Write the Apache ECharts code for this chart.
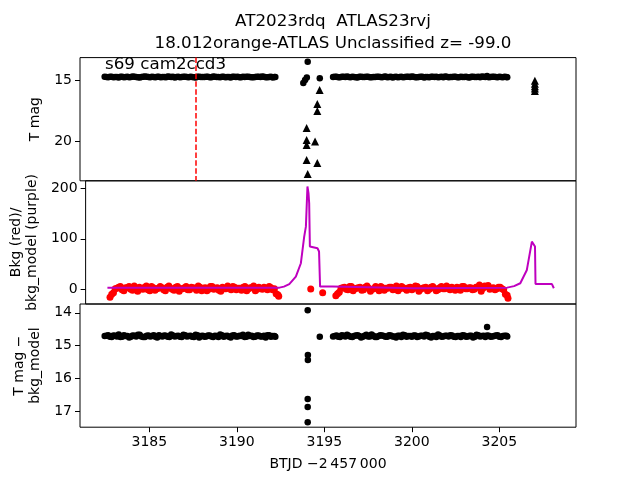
<!DOCTYPE html>
<html><head><meta charset="utf-8">
<script src="https://cdn.jsdelivr.net/npm/echarts@6/dist/echarts.min.js"></script>
<style>html,body{margin:0;padding:0;background:#fff}#c{width:640px;height:480px}</style>
</head><body><div id="c"></div>
<script>
// ---- data ----
const xTicks = [3185, 3190, 3195, 3200, 3205];
const magTicks1 = [15, 20];
const bkgTicks = [0, 100, 200];
const magTicks3 = [14, 15, 16, 17];

// observation times (two sectors, two interleaved sets each)
const t1 = [3182.45,3182.65,3182.85,3183.05,3183.25,3183.45,3183.65,3183.85,3184.05,3184.25,3184.45,3184.65,3184.85,3185.05,3185.25,3185.45,3185.65,3185.85,3186.05,3186.25,3186.45,3186.65,3186.85,3187.05,3187.25,3187.45,3187.65,3187.85,3188.05,3188.25,3188.45,3188.65,3188.85,3189.05,3189.25,3189.45,3189.65,3189.85,3190.05,3190.25,3190.45,3190.65,3190.85,3191.05,3191.25,3191.45,3191.65,3191.85,3192.05,3192.2];
const t1h = [3182.55,3182.75,3182.95,3183.15,3183.35,3183.55,3183.75,3183.95,3184.15,3184.35,3184.55,3184.75,3184.95,3185.15,3185.35,3185.55,3185.75,3185.95,3186.15,3186.35,3186.55,3186.75,3186.95,3187.15,3187.35,3187.55,3187.75,3187.95,3188.15,3188.35,3188.55,3188.75,3188.95,3189.15,3189.35,3189.55,3189.75,3189.95,3190.15,3190.35,3190.55,3190.75,3190.95,3191.15,3191.35,3191.55,3191.75,3191.95,3192.15];
const t2 = [3195.5,3195.7,3195.9,3196.1,3196.3,3196.5,3196.7,3196.9,3197.1,3197.3,3197.5,3197.7,3197.9,3198.1,3198.3,3198.5,3198.7,3198.9,3199.1,3199.3,3199.5,3199.7,3199.9,3200.1,3200.3,3200.5,3200.7,3200.9,3201.1,3201.3,3201.5,3201.7,3201.9,3202.1,3202.3,3202.5,3202.7,3202.9,3203.1,3203.3,3203.5,3203.7,3203.9,3204.1,3204.3,3204.5,3204.7,3204.9,3205.1,3205.3,3205.45];
const t2h = [3195.6,3195.8,3196.0,3196.2,3196.4,3196.6,3196.8,3197.0,3197.2,3197.4,3197.6,3197.8,3198.0,3198.2,3198.4,3198.6,3198.8,3199.0,3199.2,3199.4,3199.6,3199.8,3200.0,3200.2,3200.4,3200.6,3200.8,3201.0,3201.2,3201.4,3201.6,3201.8,3202.0,3202.2,3202.4,3202.6,3202.8,3203.0,3203.2,3203.4,3203.6,3203.8,3204.0,3204.2,3204.4,3204.6,3204.8,3205.0,3205.2,3205.4];

// panel 1: T mag
const mag1a = [14.74,14.78,14.72,14.76,14.80,14.73,14.75,14.77,14.71,14.76,14.79,14.74,14.72,14.77,14.75,14.73,14.78,14.76,14.71,14.75,14.79,14.74,14.76,14.72,14.77,14.75,14.80,14.73,14.76,14.74,14.78,14.71,14.75,14.77,14.73,14.76,14.79,14.74,14.72,14.77,14.75,14.73,14.78,14.76,14.74,14.71,14.77,14.75,14.79,14.76];
const mag1c = [14.76,14.73,14.77,14.75,14.72,14.78,14.74,14.76,14.73,14.77,14.75,14.71,14.76,14.74,14.78,14.73,14.75,14.77,14.74,14.72,14.76,14.78,14.73,14.75,14.74,14.77,14.72,14.76,14.75,14.73,14.78,14.74,14.76,14.72,14.77,14.75,14.73,14.76,14.78,14.74,14.72,14.75,14.77,14.73,14.76,14.74,14.78,14.72,14.75];
const mag1b = [14.76,14.73,14.78,14.74,14.71,14.77,14.75,14.79,14.73,14.76,14.72,14.78,14.75,14.74,14.77,14.71,14.76,14.79,14.73,14.75,14.78,14.72,14.76,14.74,14.77,14.73,14.79,14.75,14.72,14.76,14.78,14.74,14.71,14.77,14.75,14.73,14.78,14.76,14.74,14.79,14.72,14.75,14.77,14.73,14.66,14.76,14.74,14.78,14.75,14.73,14.77];
const mag1d = [14.74,14.77,14.72,14.76,14.75,14.73,14.78,14.74,14.76,14.72,14.77,14.75,14.73,14.76,14.74,14.78,14.72,14.75,14.77,14.73,14.76,14.74,14.71,14.77,14.75,14.73,14.76,14.78,14.74,14.72,14.75,14.77,14.73,14.76,14.74,14.78,14.72,14.75,14.77,14.73,14.76,14.74,14.71,14.75,14.77,14.73,14.76,14.74,14.78,14.75];
const spikeT1 = [3194.05, 3193.8, 3193.9, 3194.0, 3194.74];
const spikeM1 = [13.5, 15.25, 15.0, 14.8, 14.86];
const limT = [3194.73, 3194.6, 3194.6, 3193.99, 3193.99, 3194.47, 3193.99, 3193.99, 3194.6, 3194.05, 3207.03, 3207.03, 3207.03, 3207.03, 3207.03];
const limM = [15.82, 16.97, 17.54, 18.93, 19.92, 20.04, 20.33, 21.56, 21.8, 22.7, 15.05, 15.3, 15.5, 15.7, 15.9];
const markTime = 3187.65;

// panel 2: background (red) and background model (purple)
const bkg1 = [-15,-6,3,6,-2,4,1,7,-3,2,5,0,6,-1,3,4,-2,7,1,5,-3,2,6,0,4,-1,5,3,-2,6,1,4,-3,2,7,0,5,3,-1,6,2,4,-2,5,1,3,6,0,-8,-13];
const bkg1h = [-9,2,5,0,4,6,-1,3,5,1,7,-2,4,2,6,0,5,3,-1,6,2,4,0,5,3,7,-2,4,1,6,3,-1,5,2,4,6,0,3,5,-2,4,7,1,3,5,0,4,2,-10];
const bkg2 = [-12,-5,4,1,6,-2,3,5,0,7,-3,2,4,6,-1,3,5,1,-2,6,2,4,0,7,-3,3,5,1,6,-2,4,2,7,0,3,5,-1,6,2,4,1,5,-3,7,8,3,0,5,2,-9,-17];
const bkg2h = [-8,3,5,0,6,2,4,-1,5,3,1,6,-2,4,3,5,0,7,2,4,-1,5,3,6,1,4,-2,5,3,0,6,2,4,5,-1,3,6,2,4,0,5,9,3,6,1,4,2,5,0,-11];
const spikeTB = [3194.05, 3194.74];
const spikeB = [1.4, -5.9];
const modelT = [3182.3,3185.0,3190.0,3192.24,3192.5,3192.81,3193.19,3193.48,3193.67,3193.77,3193.86,3193.92,3193.96,3194.0,3194.44,3194.53,3194.59,3194.68,3195.3,3200.0,3205.4,3205.8,3206.16,3206.54,3206.83,3206.9,3207.01,3207.04,3207.99,3208.1];
const modelB = [4,4,4,4,6,11,25.6,52,104,124,203,190,170,85,81.5,75,6,2.8,6,3,4,7,12.6,38.8,94.5,98,85,11,11,2.8];

// panel 3: T mag - bkg_model
const mag3a = [14.71,14.68,14.74,14.70,14.66,14.73,14.71,14.75,14.69,14.72,14.67,14.74,14.70,14.72,14.68,14.75,14.71,14.69,14.73,14.66,14.72,14.70,14.74,14.68,14.71,14.73,14.67,14.75,14.70,14.72,14.69,14.74,14.71,14.66,14.73,14.70,14.75,14.68,14.72,14.71,14.74,14.67,14.70,14.73,14.69,14.72,14.75,14.68,14.71,14.73];
const mag3c = [14.70,14.73,14.69,14.72,14.74,14.68,14.71,14.73,14.70,14.67,14.72,14.74,14.69,14.71,14.73,14.68,14.72,14.70,14.74,14.69,14.71,14.73,14.67,14.72,14.70,14.74,14.68,14.71,14.73,14.69,14.72,14.70,14.74,14.68,14.71,14.73,14.69,14.72,14.70,14.67,14.73,14.71,14.74,14.69,14.72,14.70,14.68,14.73,14.71];
const mag3b = [14.72,14.69,14.74,14.70,14.67,14.73,14.71,14.68,14.75,14.70,14.72,14.66,14.74,14.71,14.69,14.73,14.68,14.72,14.75,14.70,14.67,14.73,14.71,14.69,14.74,14.70,14.72,14.68,14.75,14.71,14.66,14.73,14.70,14.72,14.69,14.74,14.71,14.68,14.73,14.70,14.75,14.67,14.72,14.70,14.69,14.73,14.71,14.68,14.74,14.70,14.72];
const mag3d = [14.71,14.73,14.68,14.72,14.70,14.74,14.69,14.71,14.73,14.67,14.72,14.70,14.74,14.68,14.71,14.73,14.69,14.72,14.70,14.74,14.68,14.71,14.73,14.69,14.72,14.70,14.67,14.73,14.71,14.74,14.69,14.72,14.70,14.68,14.73,14.71,14.74,14.69,14.72,14.70,14.73,14.68,14.71,14.74,14.70,14.72,14.69,14.73,14.71,14.70];
const spikeT3 = [3194.05, 3194.06, 3194.06, 3194.05, 3194.05, 3194.05, 3194.74, 3204.3];
const spikeM3 = [13.92, 15.29, 15.44, 16.63, 16.87, 17.34, 14.73, 14.43];

// ---- build ----
const zip = (a, b) => a.map((v, i) => [v, b[i]]);
const FONT = 'DejaVu Sans';
const X0 = 3181.04, X1 = 3209.38;
const gridTop = [57.6, 180.8, 304];
const grids = gridTop.map(t => ({left: 80, width: 496, top: t, height: 123.2, show: true, borderColor: '#000', borderWidth: 1, backgroundColor: 'transparent'}));
const xAxes = [0,1,2].map(i => ({
  type: 'value', gridIndex: i, min: X0, max: X1,
  axisLine: {show: false}, splitLine: {show: false},
  axisTick: {show: i === 2, customValues: xTicks, length: 5, lineStyle: {color: '#000', width: 1}},
  axisLabel: {show: i === 2, customValues: xTicks, formatter: v => String(v), color: '#000', fontSize: 14, fontFamily: FONT, margin: 8},
  name: i === 2 ? 'BTJD \u22122\u2009457\u2009000' : '', nameLocation: 'middle', nameGap: 30,
  nameTextStyle: {color: '#000', fontSize: 14, fontFamily: FONT}
}));
function yAx(i, min, max, ticks, inverse, name, gap) {
  return {type: 'value', gridIndex: i, min: min, max: max, inverse: inverse,
    axisLine: {show: false}, splitLine: {show: false},
    axisTick: {show: true, customValues: ticks, length: 5, lineStyle: {color: '#000', width: 1}},
    axisLabel: {customValues: ticks, formatter: v => String(v), color: '#000', fontSize: 14, fontFamily: FONT, margin: 8},
    name: name, nameLocation: 'middle', nameGap: gap, nameRotate: 90,
    nameTextStyle: {color: '#000', fontSize: 14, fontFamily: FONT, lineHeight: 16, align: 'center'}};
}
const yAxes = [
  yAx(0, 13.16, 23.26, magTicks1, true, 'T mag', 29),
  yAx(1, -28.2, 214.2, bkgTicks, false, 'Bkg (red)/\nbkg_model (purple)', 42),
  yAx(2, 13.73, 17.49, magTicks3, true, 'T mag \u2212\nbkg_model', 34)
];
const dot = {color: '#000', opacity: 1};
const option = {
  animation: false,
  backgroundColor: '#fff',
  title: {text: 'AT2023rdq  ATLAS23rvj\n18.012orange-ATLAS Unclassified z= -99.0', left: 328, top: 6, textAlign: 'center',
    textStyle: {color: '#000', fontSize: 16.7, fontWeight: 'normal', fontFamily: FONT, lineHeight: 22}},
  grid: grids, xAxis: xAxes, yAxis: yAxes,
  graphic: [{type: 'text', left: 105, top: 56, z: 100, style: {text: 's69 cam2ccd3', fill: '#000', fontSize: 16.7, fontFamily: FONT}}],
  series: [
    {type: 'scatter', xAxisIndex: 0, yAxisIndex: 0, symbolSize: 6.5, itemStyle: dot,
      data: zip(t1, mag1a).concat(zip(t1h, mag1c), zip(t2, mag1b), zip(t2h, mag1d), zip(spikeT1, spikeM1)),
      markLine: {silent: true, symbol: ['none','none'], label: {show: false},
        lineStyle: {color: '#ff0000', type: [5.5, 2.4], width: 1.5}, data: [{xAxis: markTime}]}},
    {type: 'scatter', xAxisIndex: 0, yAxisIndex: 0, symbol: 'triangle', symbolSize: 8, itemStyle: dot,
      data: zip(limT, limM)},
    {type: 'scatter', xAxisIndex: 1, yAxisIndex: 1, symbolSize: 7, itemStyle: {color: '#ff0000', opacity: 1}, z: 2,
      data: zip(t1, bkg1).concat(zip(t1h, bkg1h), zip(t2, bkg2), zip(t2h, bkg2h), zip(spikeTB, spikeB))},
    {type: 'line', xAxisIndex: 1, yAxisIndex: 1, showSymbol: false, z: 3, lineStyle: {color: '#bf00bf', width: 2},
      itemStyle: {color: '#bf00bf'}, data: zip(modelT, modelB)},
    {type: 'scatter', xAxisIndex: 2, yAxisIndex: 2, symbolSize: 6.5, itemStyle: dot,
      data: zip(t1, mag3a).concat(zip(t1h, mag3c), zip(t2, mag3b), zip(t2h, mag3d), zip(spikeT3, spikeM3))}
  ]
};
echarts.init(document.getElementById('c')).setOption(option);
</script></body></html>
